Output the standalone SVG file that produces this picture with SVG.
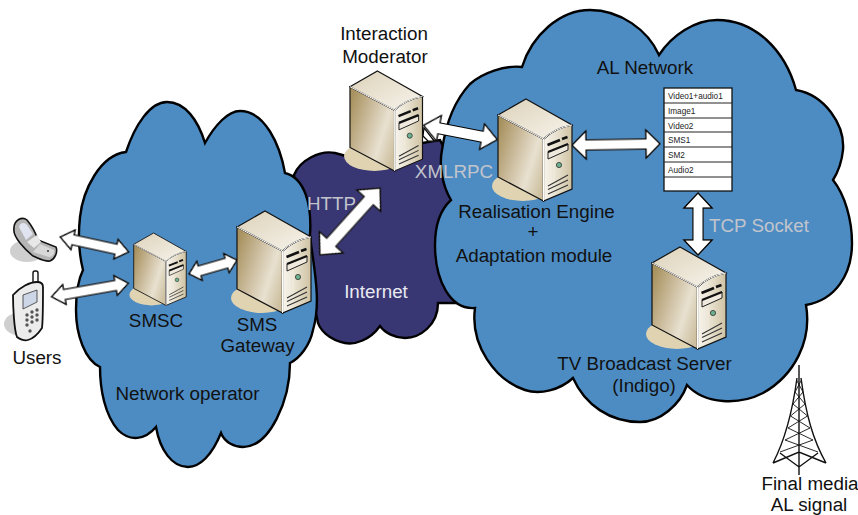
<svg xmlns="http://www.w3.org/2000/svg" width="858" height="515" viewBox="0 0 858 515">
<style>
text{font-family:"Liberation Sans",Arial,sans-serif;font-size:18.8px;fill:#111;text-anchor:middle}
.l{fill:#c2c4cc}
.c{stroke:#000;stroke-width:2.4;stroke-linejoin:miter}
.t{font-size:8.2px;text-anchor:start;fill:#222}
.a{fill:#fff;stroke:#000;stroke-width:1.2;stroke-linejoin:miter;filter:drop-shadow(.6px .8px 0 #555)}
.w{fill:none;stroke:#111;stroke-width:.9}
.b{fill:none;stroke:#111;stroke-width:1.4}
</style>
<defs>
<linearGradient id="gs" x1="0" x2="1" y1=".2" y2=".8"><stop offset="0" stop-color="#a8925f"/><stop offset=".35" stop-color="#c9b999"/><stop offset=".7" stop-color="#e8e1d0"/><stop offset="1" stop-color="#cdbf9f"/></linearGradient>
<linearGradient id="gf" x1="0" x2="1" y1="0" y2="0"><stop offset="0" stop-color="#f8f5ee"/><stop offset=".5" stop-color="#e6dfcc"/><stop offset="1" stop-color="#cfc2a3"/></linearGradient>
<linearGradient id="gt" x1="0" x2="1" y1="0" y2="1"><stop offset="0" stop-color="#ddd2ba"/><stop offset="1" stop-color="#f7f4ec"/></linearGradient>
<g id="server">
<ellipse cx="26" cy="87" rx="31" ry="15" fill="#dfd3b2"/>
<path d="M1 16L46.500 40V102L1 78Z" fill="url(#gs)" stroke="#111" stroke-width="1.2"/>
<path d="M46.500 40Q58 29 75 26V90L46.500 102Z" fill="url(#gf)" stroke="#111" stroke-width="1.2"/>
<path d="M29 0L75 26Q58 29 46.500 40L1 16Z" fill="url(#gt)" stroke="#111" stroke-width="1.2"/>
<path d="M46.500 40V102M1 16L46.500 40Q58 29 75 26" fill="none" stroke="#fff" stroke-width="1"/>
<path d="M51 62V97M54 60V96M57 59V94" stroke="#f3eee2" stroke-width="1" opacity=".8"/>
<path d="M50.500 46L63 41M65 40L70.500 38" stroke="#111" stroke-width="2.6"/>
<path d="M51 60V53L71 45V51Z" fill="#efeadd" stroke="#222" stroke-width="1"/>
<path d="M51 53L71 45" stroke="#111" stroke-width="2.4"/>
<circle cx="62" cy="66" r="2.6" fill="#6bb08f" stroke="#333" stroke-width=".8"/>
<path d="M51 87L71 76M51 90.500L71 81M51 95L71 86" stroke="#333" stroke-width="1.1" fill="none"/>
</g>
</defs>

<g id="internet-cloud"><path class="c" fill="#393674" d="M294 175C300 160 320 150 335 153C345 155 350 158 355 160L380 150L440 140L470 200V303H438C438 325 420 338 405 338C395 338 385 333 380 326C370 340 355 345 345 343C330 340 318 330 317 318L300 250Z"/></g>

<g id="operator-cloud"><path class="c" fill="#4d8cc3" d="M83 270C78 250 78 235 80 217C83 190 100 155 126 152C135 125 150 102 167 102C185 102 198 120 205 143C215 125 228 111 240 111C265 111 280 145 285 173C305 178 312 205 310 235C313 265 322 300 313 330C310 345 300 358 290 363C290 400 270 447 243 447C235 447 225 443 221 433C212 455 200 467 188 467C172 467 160 450 156 427C145 440 130 442 118 430C105 415 100 390 100 367C85 360 76 335 76 310C76 295 78 280 83 270Z"/></g>

<g id="al-cloud"><path class="c" fill="#4d8cc3" d="M451 200C442 185 439 165 442 150C446 122 455 100 470 84C482 73 505 65 522 67C532 35 560 10 590 10C620 10 648 30 659 55C672 35 695 20 717 20C755 20 785 50 796 90C825 95 845 125 843 150C842 160 838 172 833 180C845 195 852 220 852 243C852 275 835 300 806 305C812 340 795 375 763 393C740 405 705 405 687 385C680 405 660 422 640 422C610 422 585 405 573 378C560 390 540 395 525 390C495 380 470 345 475 308C450 310 435 280 435 245C435 225 440 210 451 200Z"/></g>

<g id="connectors">
<g transform="translate(94.500 244.500) rotate(12.300)"><path class="a" d="M-35 0L-22 -10V-5H22V-10L35 0L22 10V5H-22V10Z"/></g>
<g transform="translate(90 290) rotate(-10)"><path class="a" d="M-39 0L-26 -10V-5H26V-10L39 0L26 10V5H-26V10Z"/></g>
<g transform="translate(213 267) rotate(-16)"><path class="a" d="M-25 0L-14 -10V-5H14V-10L25 0L14 10V5H-14V10Z"/></g>
<g transform="translate(350 221.500) rotate(-48)"><path class="a" d="M-45 0L-28 -16V-6H28V-16L45 0L28 16V6H-28V16Z"/></g>
<path class="a" d="M424 128L434 141L428 141L423 136Z"/>
<g transform="translate(460.500 132.500) rotate(11)"><path class="a" d="M-37.500 0L-22 -13V-5.500H22V-13L37.500 0L22 13V5.500H-22V13Z"/></g>
<g transform="translate(616 144.500) rotate(-1)"><path class="a" d="M-44 0L-30 -14V-5H30V-14L44 0L30 14V5H-30V14Z"/></g>
<g transform="translate(698 224) rotate(90)"><path class="a" d="M-31 0L-16 -14V-5H16V-14L31 0L16 14V5H-16V14Z"/></g>
</g>

<g id="interaction-moderator"><use href="#server" transform="translate(349 71) scale(.98)"/><text x="384" y="40">Interaction</text><text x="385" y="63">Moderator</text></g>
<g id="realisation-engine"><use href="#server" x="497" y="99"/><text x="536.500" y="218">Realisation Engine</text><text x="533" y="238">+</text><text x="534" y="262">Adaptation module</text></g>
<g id="sms-gateway"><use href="#server" x="236" y="211"/><text x="257" y="331">SMS</text><text x="257.500" y="352">Gateway</text></g>
<g id="smsc"><use href="#server" transform="translate(133 233) scale(.71)"/><text x="156" y="327">SMSC</text></g>
<g id="tv-broadcast-server"><use href="#server" x="651" y="247"/><text x="644.500" y="370">TV Broadcast Server</text><text x="644" y="392">(Indigo)</text></g>

<g id="content-table">
<rect x="664" y="88" width="68" height="103" fill="#fff" stroke="#111" stroke-width="1.3"/>
<path d="M664 103H732M664 118H732M664 132H732M664 147H732M664 162H732M664 177H732" stroke="#222" stroke-width="1"/>
<text class="t" x="668" y="99">Video1+audio1</text><text class="t" x="668" y="114">Image1</text><text class="t" x="668" y="129">Video2</text><text class="t" x="668" y="143">SMS1</text><text class="t" x="668" y="158">SM2</text><text class="t" x="668" y="173">Audio2</text>
</g>

<g id="users">
<ellipse cx="27" cy="251" rx="17" ry="11" fill="#cfcfcf"/>
<path d="M14 228C14 220 22 216 27 220C32 226 36 234 38 240L56 247C58 252 55 259 50 261C45 262 38 258 33 256C28 252 24 248 20 243C16 238 13 233 14 228Z" fill="#b5b5b5" stroke="#111" stroke-width="1.6"/>
<path d="M19 227C20 222 25 222 27 225L33 234L26 240Z" fill="#dfe4f0"/>
<path d="M27 242L37 235L41 242L34 248Z" fill="#e8e8e8"/>
<path d="M33 252L40 244L54 250C55 254 52 257 49 257Z" fill="#d8d8d8"/>
<circle cx="48" cy="251" r="1" fill="#333"/>
<ellipse cx="22" cy="324" rx="18" ry="12" fill="#cfcfcf"/>
<rect x="33" y="271" width="5" height="14" rx="2" fill="#fff" stroke="#111" stroke-width="1.4"/>
<path d="M13 295C20 287 30 282 37 282C41 282 43 284 43 287C43 300 43 320 42 328C38 334 32 339 28 340C24 341 19 339 17 337C14 330 13 305 13 295Z" fill="#ececec" stroke="#111" stroke-width="1.8"/>
<path d="M23 295L37 290V302L23 309Z" fill="#cdd6e6" stroke="#333" stroke-width=".8"/>
<g fill="#555"><circle cx="27" cy="315" r="1.7"/><circle cx="32" cy="312" r="1.7"/><circle cx="37" cy="310" r="1.7"/><circle cx="27" cy="320" r="1.7"/><circle cx="32" cy="317" r="1.7"/><circle cx="37" cy="315" r="1.7"/><circle cx="27" cy="325" r="1.7"/><circle cx="32" cy="322" r="1.7"/><circle cx="37" cy="320" r="1.7"/><circle cx="30" cy="331" r="1.7"/></g>
<text x="37" y="364">Users</text>
</g>

<g id="tower">
<path class="b" d="M799 365V475M797 378C792 415 785 440 773 463M801 378C806 415 813 440 826 463M773 463L799 452L826 463M780 453L799 467L818 453"/>
<path class="w" d="M796.500 380L803 392M801.500 380L795 392M795 392L805 404M803 392L793 404M793 404L807.500 416M805 404L790.500 416M790.500 416L810 428M807.500 416L788 428M788 428L813 440M810 428L785 440M785 440L818 452M813 440L780 452"/>
<text x="810" y="490">Final media</text><text x="809" y="511">AL signal</text>
</g>

<g id="labels">
<text x="645" y="74">AL Network</text>
<text x="376" y="298" style="fill:#e9e9f2">Internet</text>
<text x="187.500" y="400">Network operator</text>
<text class="l" x="454" y="178">XMLRPC</text>
<text class="l" x="331.500" y="210">HTTP</text>
<text class="l" x="759" y="232">TCP Socket</text>
</g>
</svg>
